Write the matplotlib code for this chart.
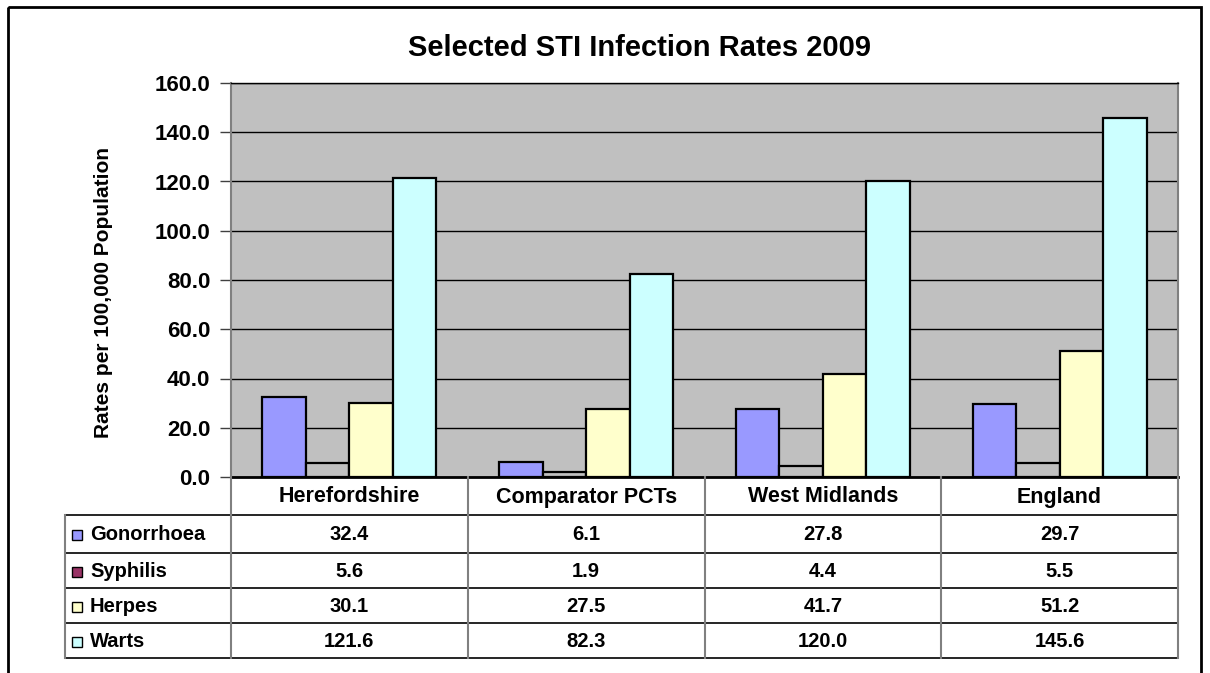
import matplotlib.pyplot as plt
from matplotlib.patches import Rectangle

plt.rcParams['font.family'] = ['Liberation Sans', 'DejaVu Sans']
plt.rcParams['font.weight'] = 'bold'

areas = ["Herefordshire", "Comparator PCTs", "West Midlands", "England"]
infections = ["Gonorrhoea", "Syphilis", "Herpes", "Warts"]
gonorrhoea = [32.4, 6.1, 27.8, 29.7]
syphilis = [5.6, 1.9, 4.4, 5.5]
herpes = [30.1, 27.5, 41.7, 51.2]
warts = [121.6, 82.3, 120.0, 145.6]
series = [gonorrhoea, syphilis, herpes, warts]

bar_colors = ['#9999FF', '#C0C0C0', '#FFFFCC', '#CCFFFF']
key_colors = ['#9999FF', '#993366', '#FFFFCC', '#CCFFFF']
yticks = [0, 20, 40, 60, 80, 100, 120, 140, 160]

W, H = 1210, 673
fig = plt.figure(figsize=(W / 100, H / 100), dpi=100)
fig.patch.set_facecolor('white')

# plot area in pixel coords
px_left, px_right, px_top, px_bottom = 231, 1178, 83, 477
ax = fig.add_axes([px_left / W, 1 - px_bottom / H, (px_right - px_left) / W, (px_bottom - px_top) / H])
ax.set_facecolor('#C0C0C0')

bw = 0.184
for i, vals in enumerate(series):
    xs = [c + (i - 1.5) * bw for c in range(len(areas))]
    ax.bar(xs, vals, width=bw, color=bar_colors[i], edgecolor='black', linewidth=1.6, zorder=3)

ax.set_xlim(-0.5, len(areas) - 0.5)
ax.set_ylim(0, 160)
ax.set_yticks(yticks)
ax.set_yticklabels(["%.1f" % t for t in yticks], fontsize=16, fontweight='bold')
ax.set_xticks([])
ax.yaxis.grid(True, color='black', linewidth=1)
ax.set_axisbelow(True)
ax.tick_params(axis='y', length=8, width=1, color='#404040', pad=7)
for side in ['left', 'right']:
    ax.spines[side].set_color('#808080')
    ax.spines[side].set_linewidth(1.5)
ax.spines['top'].set_color('black')
ax.spines['top'].set_linewidth(1)
ax.spines['bottom'].set_color('black')
ax.spines['bottom'].set_linewidth(2)

# data table drawn in pixel coords on an overlay
ov = fig.add_axes([0, 0, 1, 1])
ov.set_xlim(0, W)
ov.set_ylim(H, 0)
ov.axis('off')
ov.patch.set_alpha(0)

ov.text(640, 48, "Selected STI Infection Rates 2009", ha='center', va='center', fontsize=21, fontweight='bold')
ov.text(104, 293, "Rates per 100,000 Population", ha='center', va='center', rotation=90,
        fontsize=15, fontweight='bold')

ov.add_patch(Rectangle((8, 7), 1193, 700, fill=False, edgecolor='black', linewidth=2, clip_on=False))

col_w = (px_right - px_left) / len(areas)
col_x = [px_left + k * col_w for k in range(len(areas) + 1)]
row_y = [477, 515, 553, 588, 623, 658]
tbl_left = 65

for y in row_y[1:]:
    ov.plot([tbl_left, px_right], [y, y], color='black', linewidth=1.2)
ov.plot([tbl_left, tbl_left], [row_y[1], row_y[-1]], color='#808080', linewidth=1.5)
for x in col_x:
    ov.plot([x, x], [row_y[0], row_y[-1]], color='#808080', linewidth=1.5)

for k, name in enumerate(areas):
    ov.text((col_x[k] + col_x[k + 1]) / 2, (row_y[0] + row_y[1]) / 2 + 1, name,
            ha='center', va='center', fontsize=15.5, fontweight='bold')

for r, (name, vals) in enumerate(zip(infections, series)):
    yc = (row_y[r + 1] + row_y[r + 2]) / 2 + 1
    ov.add_patch(Rectangle((72, yc - 5), 10, 10, facecolor=key_colors[r], edgecolor='black', linewidth=1))
    ov.text(90, yc, name, ha='left', va='center', fontsize=14.5, fontweight='bold')
    for k, v in enumerate(vals):
        ov.text((col_x[k] + col_x[k + 1]) / 2, yc, "%.1f" % v,
                ha='center', va='center', fontsize=14.5, fontweight='bold')

fig.savefig('out.png', dpi=100)
